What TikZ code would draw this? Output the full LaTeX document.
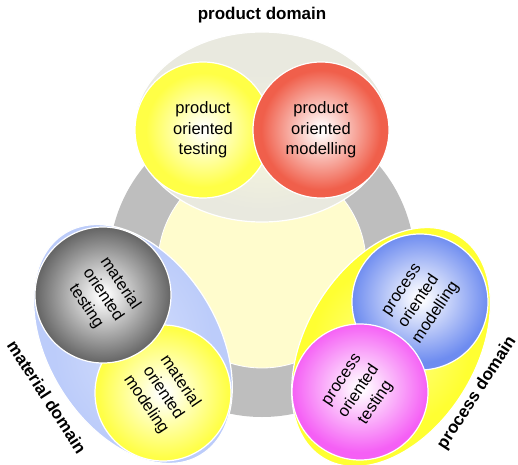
\documentclass[tikz,border=0pt]{standalone}
\usepackage{fontspec}
\setmainfont{Liberation Sans}
\definecolor{ringgray}{RGB}{190,190,190}
\definecolor{innery}{RGB}{255,252,205}
\definecolor{prodell}{RGB}{233,233,223}
\definecolor{prodin}{RGB}{245,245,220}
\definecolor{matell}{RGB}{188,204,250}
\definecolor{matin}{RGB}{212,222,252}
\definecolor{procell}{RGB}{255,255,50}
\definecolor{procin}{RGB}{255,255,150}
\definecolor{cyel}{RGB}{255,255,70}
\definecolor{cred}{RGB}{240,95,75}
\definecolor{cgray}{RGB}{100,100,100}
\definecolor{cblue}{RGB}{110,140,240}
\definecolor{cpink}{RGB}{245,95,245}
\pgfdeclareradialshading{ballyel}{\pgfpoint{0bp}{0bp}}{color(0bp)=(white); color(2bp)=(white!95!cyel); color(21bp)=(cyel); color(50bp)=(cyel)}
\pgfdeclareradialshading{ballred}{\pgfpoint{0bp}{0bp}}{color(0bp)=(white); color(2bp)=(white!95!cred); color(22bp)=(cred); color(50bp)=(cred)}
\pgfdeclareradialshading{ballgray}{\pgfpoint{0bp}{0bp}}{color(0bp)=(white); color(2bp)=(white!95!cgray); color(22bp)=(cgray); color(25bp)=(cgray!85!black); color(50bp)=(cgray!85!black)}
\pgfdeclareradialshading{ballblue}{\pgfpoint{0bp}{0bp}}{color(0bp)=(white); color(2bp)=(white!95!cblue); color(22bp)=(cblue); color(50bp)=(cblue)}
\pgfdeclareradialshading{ballpink}{\pgfpoint{0bp}{0bp}}{color(0bp)=(white); color(2bp)=(white!95!cpink); color(22bp)=(cpink); color(50bp)=(cpink)}
\pgfdeclareradialshading{ellprod}{\pgfpoint{0bp}{-6bp}}{color(0bp)=(prodin); color(18bp)=(prodell); color(50bp)=(prodell)}
\pgfdeclareradialshading{ellmat}{\pgfpoint{0bp}{0bp}}{color(0bp)=(matin); color(18bp)=(matell); color(50bp)=(matell)}
\pgfdeclareradialshading{ellproc}{\pgfpoint{0bp}{0bp}}{color(0bp)=(procin); color(18bp)=(procell); color(50bp)=(procell)}
\begin{document}
\begin{tikzpicture}[x=1pt,y=1pt,
  ball/.style={circle, minimum size=136pt, inner sep=0pt, draw=white, line width=1.2pt,
    align=center, font=\fontsize{16.5}{20.5}\selectfont},
  domainlabel/.style={font=\bfseries\fontsize{17}{20}\selectfont, inner sep=0pt},
  domell/.style={draw=white, line width=1.2pt}]
\useasboundingbox (0,0) rectangle (518,464);
% ring
\fill[ringgray] (262,200) circle (153);
\filldraw[fill=innery, draw=white, line width=0.8pt] (262,200) circle (104);
% domain ellipses
\shade[shading=ellprod, domell] (262,337) ellipse (127 and 95);
\shade[shading=ellmat, domell, rotate around={-58.5:(133,120)}] (133,120) ellipse (130 and 85);
\shade[shading=ellproc, domell, rotate around={58.5:(391,117)}] (391,117) ellipse (130 and 85);
% product domain
\node[ball, shade, shading=ballyel] (pt) at (203,334) {product\\oriented\\testing};
\node[ball, shade, shading=ballred] (pm) at (321,334) {product\\oriented\\modelling};
% material domain
\node[ball, shade, shading=ballyel, rotate=-56] (mm) at (163,71) {material\\oriented\\modeling};
\node[ball, shade, shading=ballgray, rotate=-56] (mt) at (103,169) {material\\oriented\\testing};
% process domain
\node[ball, shade, shading=ballblue, rotate=56] (pcm) at (420,162) {process\\oriented\\modelling};
\node[ball, shade, shading=ballpink, rotate=56] (pct) at (360,72) {process\\oriented\\testing};
% labels
\node[domainlabel] (lprod) at (262,449) {product domain};
\node[domainlabel, rotate=-57] (lmat) at (47,67) {material domain};
\node[domainlabel, rotate=57] (lproc) at (477,71) {process domain};
\end{tikzpicture}
\end{document}
